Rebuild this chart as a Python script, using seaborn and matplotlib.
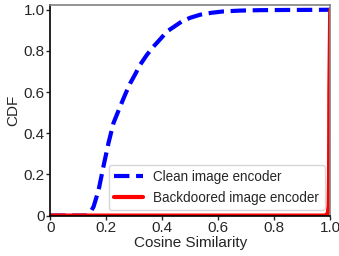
import numpy as np
import pandas as pd
import seaborn as sns
import matplotlib.pyplot as plt

# CDF curves
clean_x = [0.0, 0.12, 0.131, 0.142, 0.155, 0.173, 0.19, 0.208, 0.226, 0.25, 0.27,
           0.286, 0.305, 0.321, 0.345, 0.369, 0.395, 0.417, 0.445, 0.47, 0.5,
           0.536, 0.575, 0.619, 0.68, 0.75, 0.85, 0.95, 1.0]
clean_y = [0.0, 0.0, 0.0, 0.012, 0.043, 0.124, 0.237, 0.351, 0.449, 0.53, 0.595,
           0.643, 0.69, 0.732, 0.78, 0.821, 0.86, 0.894, 0.92, 0.943, 0.961,
           0.976, 0.985, 0.992, 0.996, 0.998, 0.999, 0.9995, 1.0]
bd_x = [0.0, 0.98, 0.988, 0.992, 0.9945, 0.996, 0.997, 1.0]
bd_y = [0.0, 0.0, 0.004, 0.015, 0.05, 0.2, 0.6, 1.0]

sns.set_style('white')
plt.rcParams['font.family'] = ['Liberation Sans', 'DejaVu Sans']

df_clean = pd.DataFrame({'x': clean_x, 'y': clean_y})
df_bd = pd.DataFrame({'x': bd_x, 'y': bd_y})

fig, ax = plt.subplots(figsize=(3.39, 2.56), dpi=100)
sns.lineplot(x='x', y='y', data=df_clean, ax=ax, color='blue', linestyle='--',
             linewidth=3, sort=False, label='Clean image encoder')
sns.lineplot(x='x', y='y', data=df_bd, ax=ax, color='red', linestyle='-',
             linewidth=3, sort=False, label='Backdoored image encoder')

ax.set_xlim(0, 1)
ax.set_ylim(0, 1.025)
ax.set_xticks([0, 0.2, 0.4, 0.6, 0.8, 1.0])
ax.set_xticklabels(['0', '0.2', '0.4', '0.6', '0.8', '1.0'])
ax.set_yticks([0, 0.2, 0.4, 0.6, 0.8, 1.0])
ax.set_yticklabels(['0', '0.2', '0.4', '0.6', '0.8', '1.0'])
ax.tick_params(axis='both', labelsize=11, length=3, width=1, direction='out',
               bottom=True, left=True, pad=1)
ax.set_xlabel('Cosine Similarity', fontsize=11, labelpad=1)
ax.set_ylabel('CDF', fontsize=11, labelpad=2)
for s in ['left', 'bottom']:
    ax.spines[s].set_color('black')
    ax.spines[s].set_linewidth(1.2)
for s in ['top', 'right']:
    ax.spines[s].set_color('gray')
    ax.spines[s].set_linewidth(1.2)

ax.legend(loc='lower right', fontsize=9.75, handlelength=2.1, borderaxespad=0.4,
          frameon=True)

fig.subplots_adjust(left=0.148, right=0.974, top=0.982, bottom=0.158)
fig.savefig('out.png', dpi=100)
